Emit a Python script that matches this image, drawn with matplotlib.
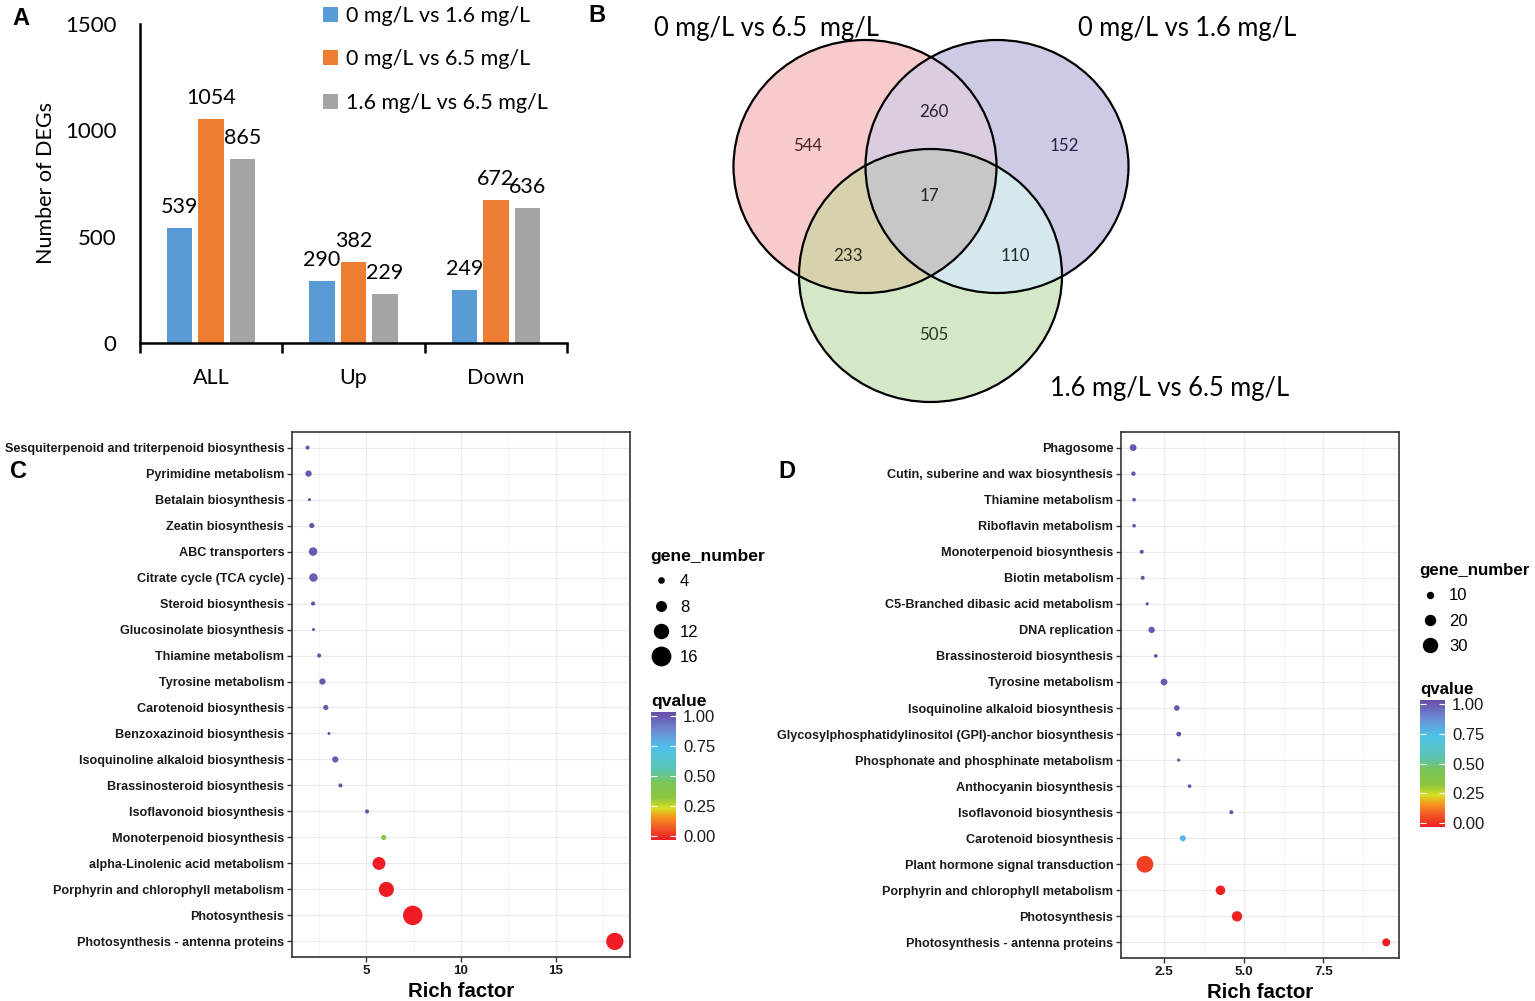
import numpy as np
import matplotlib
matplotlib.use('Agg')
import matplotlib.pyplot as plt
from matplotlib.colors import LinearSegmentedColormap, Normalize, to_rgb
from matplotlib.cm import ScalarMappable
from matplotlib.patches import Ellipse
from matplotlib.lines import Line2D

W, H = 1535, 1001

# ---------------- data ----------------
# panel A
groups = ['ALL', 'Up', 'Down']
comparisons = ['0 mg/L vs 1.6 mg/L', '0 mg/L vs 6.5 mg/L', '1.6 mg/L vs 6.5 mg/L']
deg_16 = [539, 290, 249]
deg_65 = [1054, 382, 672]
deg_16_65 = [865, 229, 636]
bar_colors = ['#5B9BD5', '#ED7D31', '#A5A5A5']

# panel B (venn counts)
venn_sets = ['0 mg/L vs 6.5  mg/L', '0 mg/L vs 1.6 mg/L', '1.6 mg/L vs 6.5 mg/L']
venn_counts = {'100': 544, '010': 152, '001': 505, '110': 260,
               '101': 233, '011': 110, '111': 17}

# panel C
paths_c = ['Sesquiterpenoid and triterpenoid biosynthesis', 'Pyrimidine metabolism',
           'Betalain biosynthesis', 'Zeatin biosynthesis', 'ABC transporters',
           'Citrate cycle (TCA cycle)', 'Steroid biosynthesis', 'Glucosinolate biosynthesis',
           'Thiamine metabolism', 'Tyrosine metabolism', 'Carotenoid biosynthesis',
           'Benzoxazinoid biosynthesis', 'Isoquinoline alkaloid biosynthesis',
           'Brassinosteroid biosynthesis', 'Isoflavonoid biosynthesis',
           'Monoterpenoid biosynthesis', 'alpha-Linolenic acid metabolism',
           'Porphyrin and chlorophyll metabolism', 'Photosynthesis',
           'Photosynthesis - antenna proteins']
rich_c = [1.92, 1.97, 2.02, 2.14, 2.21, 2.23, 2.21, 2.23, 2.53, 2.70,
          2.88, 3.05, 3.38, 3.65, 5.05, 5.93, 5.68, 6.07, 7.46, 18.1]
genes_c = [3, 5, 2, 4, 7, 7, 3, 2, 3, 5, 4, 2, 5, 3, 3, 4, 11, 13, 17, 15]
q_c = [0.98, 0.97, 1.0, 0.98, 0.97, 0.96, 1.0, 1.0, 0.99, 0.97,
       0.97, 1.0, 0.96, 0.98, 0.99, 0.36, 0.0, 0.0, 0.0, 0.0]

# panel D
paths_d = ['Phagosome', 'Cutin, suberine and wax biosynthesis', 'Thiamine metabolism',
           'Riboflavin metabolism', 'Monoterpenoid biosynthesis', 'Biotin metabolism',
           'C5-Branched dibasic acid metabolism', 'DNA replication',
           'Brassinosteroid biosynthesis', 'Tyrosine metabolism',
           'Isoquinoline alkaloid biosynthesis',
           'Glycosylphosphatidylinositol (GPI)-anchor biosynthesis',
           'Phosphonate and phosphinate metabolism', 'Anthocyanin biosynthesis',
           'Isoflavonoid biosynthesis', 'Carotenoid biosynthesis',
           'Plant hormone signal transduction', 'Porphyrin and chlorophyll metabolism',
           'Photosynthesis', 'Photosynthesis - antenna proteins']
rich_d = [1.53, 1.54, 1.56, 1.56, 1.80, 1.83, 1.97, 2.11, 2.24, 2.50,
          2.90, 2.96, 2.96, 3.30, 4.61, 3.09, 1.90, 4.27, 4.79, 9.47]
genes_d = [12, 6, 4, 4, 5, 5, 3, 11, 4, 12, 9, 7, 3, 4, 5, 10, 37, 19, 21, 15]
q_d = [0.97, 0.98, 1.0, 1.0, 0.99, 0.99, 1.0, 0.97, 1.0, 0.97,
       0.98, 0.99, 1.0, 1.0, 0.99, 0.76, 0.06, 0.01, 0.01, 0.0]

# ---------------- helpers ----------------
def rect(l, t, r, b):
    return [l / W, 1 - b / H, (r - l) / W, (b - t) / H]

qcmap = LinearSegmentedColormap.from_list('q', [
    (0.0, '#EE1C25'), (0.1, '#F15A24'), (0.18, '#F7941D'), (0.25, '#D7DF23'),
    (0.33, '#8DC63F'), (0.45, '#7AC55A'), (0.55, '#5BC4B0'), (0.72, '#4FC3EB'),
    (0.86, '#6C8AD4'), (1.0, '#6A4BA6')])
qnorm = Normalize(0, 1)

fig = plt.figure(figsize=(W / 100, H / 100), dpi=100)
fig.patch.set_facecolor('white')

# ---------------- panel A ----------------
lato = 'Lato'
axA = fig.add_axes(rect(140, 24, 567, 343))
x = np.arange(len(groups))
step, bw = 0.222, 0.178
for i, (vals, lab) in enumerate(zip([deg_16, deg_65, deg_16_65], comparisons)):
    bars = axA.bar(x + (i - 1) * step, vals, bw, color=bar_colors[i], label=lab)
    for b, v in zip(bars, vals):
        axA.annotate(str(v), (b.get_x() + b.get_width() / 2, v), xytext=(0, 8),
                     textcoords='offset points', ha='center', va='bottom',
                     fontsize=15.5, family=lato)
axA.set_xlim(-0.5, 2.5)
axA.set_ylim(0, 1500)
axA.set_yticks([0, 500, 1000, 1500])
axA.set_xticks(x)
axA.set_xticklabels(groups, family=lato, fontsize=15.5)
axA.set_xticks([-0.5, 0.5, 1.5, 2.5], minor=True)
axA.tick_params(axis='x', which='major', length=0, pad=18)
axA.tick_params(axis='x', which='minor', length=7, width=1.8, direction='out')
axA.tick_params(axis='y', length=0, pad=17, labelsize=16)
for t in axA.get_yticklabels():
    t.set_family(lato)
for s in ['top', 'right']:
    axA.spines[s].set_visible(False)
for s in ['left', 'bottom']:
    axA.spines[s].set_linewidth(1.8)
axA.set_ylabel('Number of DEGs', family=lato, fontsize=15.5)
axA.yaxis.set_label_coords(-0.196, 0.5)
axA.legend(loc='upper left', bbox_to_anchor=(314 / W, 1 + 3 / H),
           bbox_transform=fig.transFigure, frameon=False,
           prop={'family': lato, 'size': 15.5}, handlelength=0.7,
           handleheight=0.7, handletextpad=0.4, labelspacing=1.1,
           borderaxespad=0)

# ---------------- panel B ----------------
axB = fig.add_axes(rect(640, 0, 1330, 415))
axB.set_xlim(640, 1330)
axB.set_ylim(415, 0)
axB.axis('off')
centers = [(865, 166.5), (997, 166.5), (930.5, 275.5)]
rx, ry = 131.5, 126.5
gx, gy = np.meshgrid(np.arange(640, 1330, 0.5), np.arange(0, 415, 0.5))
inside = [((gx - cx) / rx) ** 2 + ((gy - cy) / ry) ** 2 <= 1 for cx, cy in centers]
region_colors = {'100': '#F9CACB', '010': '#CDCAE6', '001': '#D4E8C8',
                 '110': '#DACDE0', '101': '#D6D2AE', '011': '#D4E8EE',
                 '111': '#C8C8C8'}
img = np.ones(gx.shape + (4,))
img[..., 3] = 0
for key, col in region_colors.items():
    m = np.ones(gx.shape, bool)
    for k, ins in zip(key, inside):
        m &= ins if k == '1' else ~ins
    img[m, :3] = to_rgb(col)
    img[m, 3] = 1
axB.imshow(img, extent=(640, 1330, 415, 0), interpolation='bilinear', zorder=1)
for cx, cy in centers:
    axB.add_patch(Ellipse((cx, cy), 2 * rx, 2 * ry, fill=False, lw=1.6,
                          ec='black', zorder=3))
label_pos = {'100': (808, 146), '010': (1064, 146), '001': (934, 335),
             '110': (934, 112), '101': (848, 256), '011': (1015, 256),
             '111': (929, 196)}
label_cols = {'100': '#4a2020', '010': '#262048', '001': '#1f3a1f',
              '110': '#2a2030', '101': '#2a2a1a', '011': '#1f2a2a',
              '111': '#222222'}
for key, n in venn_counts.items():
    axB.text(*label_pos[key], str(n), ha='center', va='center', fontsize=12.2,
             family=lato, color=label_cols[key], zorder=4)
axB.text(654, 28, venn_sets[0], ha='left', va='center', fontsize=18.4, family=lato)
axB.text(1078, 28, venn_sets[1], ha='left', va='center', fontsize=18.4, family=lato)
axB.text(1050, 388, venn_sets[2], ha='left', va='center', fontsize=18.4, family=lato)

# ---------------- panels C / D ----------------
def bubble(ax, names, rich, genes, q, xlim, xticks, minor, dfun):
    n = len(names)
    ypos = np.arange(n, 0, -1)
    d_pt = np.array([dfun(g) for g in genes]) * 0.72
    ax.scatter(rich, ypos, s=d_pt ** 2, c=q, cmap=qcmap, norm=qnorm,
               edgecolors='none', zorder=3)
    ax.set_xlim(*xlim)
    ax.set_ylim(0.4, n + 0.6)
    ax.set_yticks(ypos)
    ax.set_yticklabels(names)
    ax.set_xticks(xticks)
    ax.set_xticks(minor, minor=True)
    ax.grid(which='major', color='#EBEBEB', lw=0.9, zorder=0)
    ax.grid(which='minor', axis='x', color='#F2F2F2', lw=0.6, zorder=0)
    ax.set_axisbelow(True)
    ax.tick_params(axis='both', which='major', length=3.5, width=1.0,
                   color='#333333', pad=2)
    ax.tick_params(axis='x', which='minor', length=0)
    for lab in ax.get_yticklabels():
        lab.set_fontsize(9.05)
        lab.set_fontweight('bold')
        lab.set_family('Liberation Sans')
        lab.set_color('#1a1a1a')
    for lab in ax.get_xticklabels():
        lab.set_fontsize(9.6)
        lab.set_fontweight('bold')
        lab.set_family('Liberation Sans')
        lab.set_color('#1a1a1a')
    for s in ax.spines.values():
        s.set_linewidth(1.2)
        s.set_color('#333333')
    ax.set_xlabel('Rich factor', fontsize=14.7, fontweight='bold',
                  family='Liberation Sans', labelpad=4)


def legends(ax, sizes, dfun, leg_xy, cb_rect, title_size):
    handles = [Line2D([], [], ls='none', marker='o', color='black',
                      markersize=dfun(s) * 0.72) for s in sizes]
    ax.legend(handles, [str(s) for s in sizes], title='gene_number',
              loc='upper left', bbox_to_anchor=(leg_xy[0] / W, 1 - leg_xy[1] / H),
              bbox_transform=fig.transFigure, frameon=False,
              prop={'family': 'Liberation Sans', 'size': 12},
              title_fontproperties={'family': 'Liberation Sans', 'size': title_size,
                                    'weight': 'bold'},
              handlelength=1.3, handletextpad=0.5, labelspacing=0.62,
              borderaxespad=0, borderpad=0, alignment='left')
    # bar runs a little past 0 and 1, as ggplot's colourbar does
    cax = fig.add_axes(rect(*cb_rect))
    cb = fig.colorbar(ScalarMappable(norm=Normalize(-0.035, 1.035), cmap=qcmap),
                      cax=cax)
    cb.outline.set_visible(False)
    cb.set_ticks([0, 0.25, 0.5, 0.75, 1.0])
    cb.set_ticklabels(['0.00', '0.25', '0.50', '0.75', '1.00'])
    cax.tick_params(length=4, width=0.8, color='white', direction='in',
                    labelsize=12, pad=5, left=True, right=True)
    for t in cax.get_yticklabels():
        t.set_family('Liberation Sans')
        t.set_color('#1a1a1a')
    cax.text(0, 1.025, 'qvalue', transform=cax.transAxes, ha='left', va='bottom',
             fontsize=title_size, fontweight='bold', family='Liberation Sans')


dC = lambda g: 0.8 + 1.1 * g
dD = lambda g: 2.0 + 0.4 * g

axC = fig.add_axes(rect(292, 432, 630, 957))
bubble(axC, paths_c, rich_c, genes_c, q_c, (1.1, 18.9), [5, 10, 15],
       [2.5, 7.5, 12.5, 17.5], dC)
legends(axC, [4, 8, 12, 16], dC, (650, 549), (651, 712, 676, 840), 12.6)

axD = fig.add_axes(rect(1121, 432, 1399, 958))
bubble(axD, paths_d, rich_d, genes_d, q_d, (1.15, 9.87), [2.5, 5.0, 7.5],
       [1.25, 3.75, 6.25, 8.75], dD)
legends(axD, [10, 20, 30], dD, (1419, 563), (1420, 700, 1445, 827), 12.2)

# panel letters
for letter, (lx, ly) in zip('ABCD', [(12, 18), (588, 15), (10, 472), (778, 472)]):
    fig.text(lx / W, 1 - ly / H, letter, fontsize=17, fontweight='bold',
             family='Liberation Sans', ha='left', va='center')

fig.savefig('out.png', dpi=100)
